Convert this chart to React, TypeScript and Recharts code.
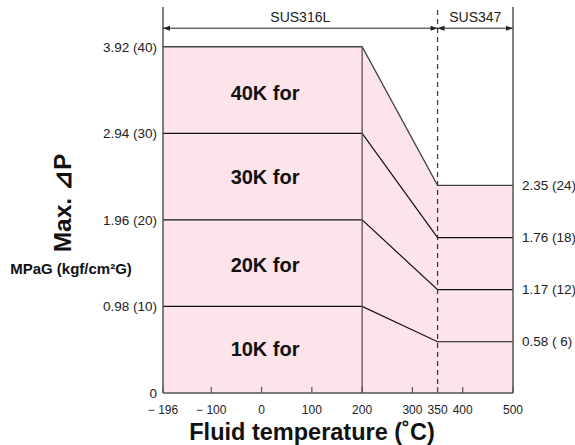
import { ComposedChart, Area, Line, XAxis, YAxis, ReferenceLine, ReferenceDot } from 'recharts';

// Fluid temperature break points (°C)
const temps = [-196, 200, 350, 500];

// Max. differential pressure in MPaG for each class
const k40 = [3.92, 3.92, 2.35, 2.35];
const k30 = [2.94, 2.94, 1.76, 1.76];
const k20 = [1.96, 1.96, 1.17, 1.17];
const k10 = [0.98, 0.98, 0.58, 0.58];

const xTicks = [-196, -100, 0, 100, 200, 300, 350, 400, 500];
const xTickLabels = ['− 196', '− 100', '0', '100', '200', '300', '350', '400', '500'];

const leftTicks = [0, 0.98, 1.96, 2.94, 3.92];
const leftTickLabels = ['0', '0.98 (10)', '1.96 (20)', '2.94 (30)', '3.92 (40)'];

const rightTicks = [0.58, 1.17, 1.76, 2.35];
const rightTickLabels = ['0.58 ( 6)', '1.17 (12)', '1.76 (18)', '2.35 (24)'];

// material ranges shown with arrows above the plot
const materialNames = ['SUS316L', 'SUS347'];
const materialFrom = [-196, 350];
const materialTo = [350, 500];
const materialArrowY = 4.13;

// class labels inside the pink area
const classLabels = ['40K for', '30K for', '20K for', '10K for'];
const classLabelY = [3.4, 2.45, 1.45, 0.5];
const classLabelX = 7;

const yMax = 4.37;

const data = temps.map((t, i) => ({ t, k40: k40[i], k30: k30[i], k20: k20[i], k10: k10[i] }));

const FONT = '"Liberation Sans", Arial, Helvetica, sans-serif';

const XTick = (props: any) => {
  const { x, y, index } = props;
  return (
    <g>
      <line x1={x} x2={x} y1={y} y2={y - 6} stroke="#555" strokeWidth={1.2} />
      <text x={x} y={y + 21} textAnchor="middle" fontSize={12} fill="#222" fontFamily={FONT}>
        {xTickLabels[index]}
      </text>
    </g>
  );
};

const RightTick = (props: any) => {
  const { x, y, index } = props;
  return (
    <text x={x} y={y} dy={4.5} textAnchor="start" fontSize={13.5} fill="#222" fontFamily={FONT}>
      {rightTickLabels[index]}
    </text>
  );
};

const arrowShape = (name: string) => (props: any) => {
  const { x1, y1, x2, y2 } = props;
  const a = 7;
  const w = 2.5;
  return (
    <g>
      <line x1={x1} y1={y1} x2={x2} y2={y2} stroke="#222" strokeWidth={1} />
      <path d={`M${x1},${y1} L${x1 + a},${y1 - w} L${x1 + a},${y1 + w} Z`} fill="#222" />
      <path d={`M${x2},${y2} L${x2 - a},${y2 - w} L${x2 - a},${y2 + w} Z`} fill="#222" />
      <text x={(x1 + x2) / 2} y={y1 - 6} textAnchor="middle" fontSize={14} fill="#222" fontFamily={FONT}>
        {name}
      </text>
    </g>
  );
};

const classLabelShape = (text: string) => (props: any) => (
  <text
    x={props.cx}
    y={props.cy}
    textAnchor="middle"
    dominantBaseline="central"
    fontSize={20}
    fontWeight="bold"
    fill="#111"
    fontFamily={FONT}
  >
    {text}
  </text>
);

export default function App() {
  return (
    <div style={{ position: 'absolute', left: 0, top: 0, width: 575, height: 445, fontFamily: FONT, background: '#fff' }}>
      <ComposedChart width={575} height={445} data={data} margin={{ top: 7, right: 0, bottom: 0, left: 0 }}>
        <XAxis
          dataKey="t"
          type="number"
          domain={[-196, 500]}
          ticks={xTicks}
          interval={0}
          height={52}
          tickSize={0}
          tickMargin={0}
          tick={<XTick />}
          axisLine={{ stroke: '#555', strokeWidth: 1.5 }}
        />
        <YAxis
          yAxisId="left"
          type="number"
          domain={[0, yMax]}
          ticks={leftTicks}
          interval={0}
          width={163}
          tickLine={false}
          tickSize={0}
          tickMargin={6}
          tickFormatter={(v: number, i: number) => leftTickLabels[i]}
          tick={{ fontSize: 13.5, fill: '#222', fontFamily: FONT }}
          axisLine={{ stroke: '#555', strokeWidth: 1.5 }}
        />
        <YAxis
          yAxisId="right"
          orientation="right"
          type="number"
          domain={[0, yMax]}
          ticks={rightTicks}
          interval={0}
          width={62}
          tickLine={false}
          tickSize={0}
          tickMargin={9}
          tick={<RightTick />}
          axisLine={{ stroke: '#555', strokeWidth: 1.5 }}
        />
        <Area
          yAxisId="left"
          type="linear"
          dataKey="k40"
          fill="#fce4ea"
          fillOpacity={1}
          stroke="#444"
          strokeWidth={1.3}
          dot={false}
          activeDot={false}
          isAnimationActive={false}
        />
        <Line yAxisId="left" type="linear" dataKey="k30" stroke="#111" strokeWidth={1.2} dot={false} activeDot={false} isAnimationActive={false} />
        <Line yAxisId="left" type="linear" dataKey="k20" stroke="#111" strokeWidth={1.2} dot={false} activeDot={false} isAnimationActive={false} />
        <Line yAxisId="left" type="linear" dataKey="k10" stroke="#111" strokeWidth={1.2} dot={false} activeDot={false} isAnimationActive={false} />
        {/* invisible series so the right axis gets its ticks */}
        <Line yAxisId="right" type="linear" dataKey="k10" stroke="none" dot={false} activeDot={false} isAnimationActive={false} />
        <ReferenceLine
          yAxisId="left"
          segment={[{ x: temps[1], y: 0 }, { x: temps[1], y: k40[1] }]}
          stroke="#555"
          strokeWidth={1.3}
        />
        <ReferenceLine yAxisId="left" x={temps[2]} stroke="#333" strokeWidth={1.2} strokeDasharray="5 4" />
        {materialNames.map((name, i) => (
          <ReferenceLine
            key={name}
            yAxisId="left"
            segment={[{ x: materialFrom[i], y: materialArrowY }, { x: materialTo[i], y: materialArrowY }]}
            shape={arrowShape(name)}
          />
        ))}
        {classLabels.map((label, i) => (
          <ReferenceDot
            key={label}
            yAxisId="left"
            x={classLabelX}
            y={classLabelY[i]}
            r={0}
            shape={classLabelShape(label)}
          />
        ))}
      </ComposedChart>
      <div
        style={{
          position: 'absolute',
          left: 63,
          top: 203,
          transform: 'translate(-50%, -50%) rotate(-90deg)',
          fontSize: 24.5,
          fontWeight: 'bold',
          whiteSpace: 'nowrap',
          color: '#111',
          lineHeight: 1,
        }}
      >
        Max. ⊿P
      </div>
      <div
        style={{
          position: 'absolute',
          left: 71,
          top: 268,
          transform: 'translate(-50%, -50%)',
          fontSize: 15,
          fontWeight: 'bold',
          whiteSpace: 'nowrap',
          color: '#111',
          lineHeight: 1,
        }}
      >
        MPaG (kgf/cm²G)
      </div>
      <div
        style={{
          position: 'absolute',
          left: 312,
          top: 433,
          transform: 'translate(-50%, -50%)',
          fontSize: 23.5,
          fontWeight: 'bold',
          whiteSpace: 'nowrap',
          color: '#111',
          lineHeight: 1,
        }}
      >
        Fluid temperature (˚C)
      </div>
    </div>
  );
}
